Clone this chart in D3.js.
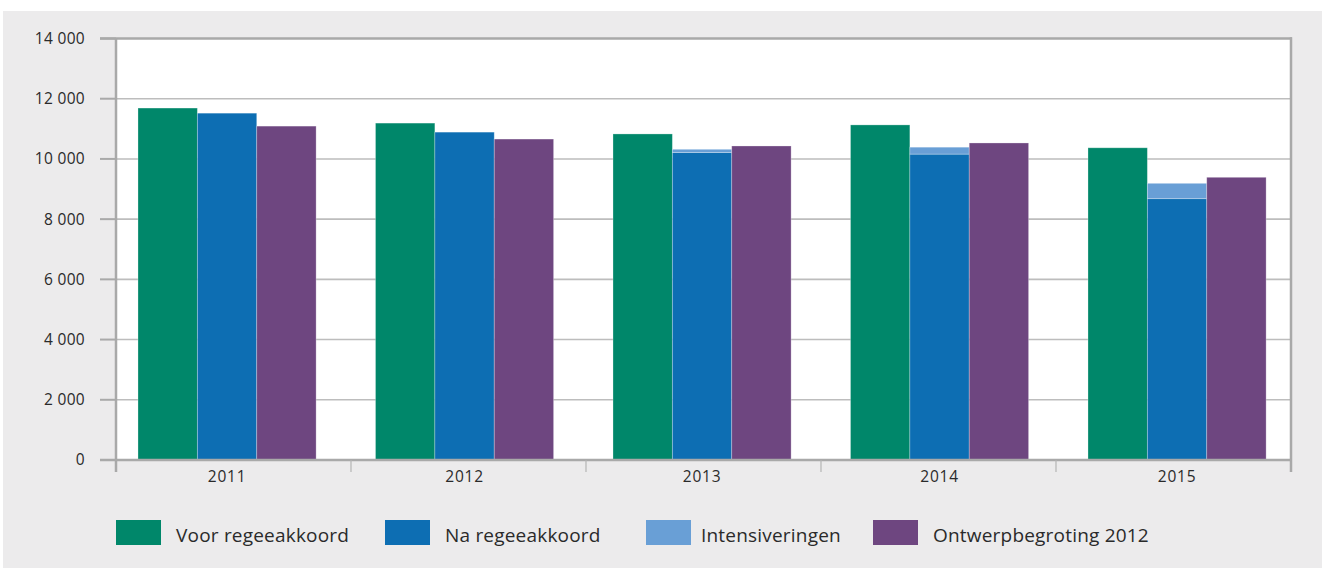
<!DOCTYPE html>
<html>
<head>
<meta charset="utf-8">
<script src="https://cdn.jsdelivr.net/npm/d3@7"></script>
<style>
  body { margin: 0; background: #fff; }
  text { font-family: "Open Sans", Lato, sans-serif; fill: #2a2a2a; }
</style>
</head>
<body>
<div id="chart"></div>
<script>
var years = ["2011", "2012", "2013", "2014", "2015"];
var voor = [11690, 11190, 10830, 11130, 10370];
var na = [11520, 10890, 10210, 10160, 8680];
var intens = [0, 0, 110, 230, 510];
var ontwerp = [11090, 10660, 10430, 10530, 9390];
var yTicks = [0, 2000, 4000, 6000, 8000, 10000, 12000, 14000];
var legendLabels = ["Voor regeeakkoord", "Na regeeakkoord", "Intensiveringen", "Ontwerpbegroting 2012"];
var colors = ["#00876a", "#0d6eb3", "#699fd6", "#6e4680"];

var w = 1322, h = 568,
    svg = d3.select("#chart")
        .append("svg")
        .attr("width", w)
        .attr("height", h);

// grey panel
svg.append("rect")
    .attr("x", 3).attr("y", 11)
    .attr("width", w - 3).attr("height", h - 11)
    .attr("fill", "#ecebec");

var pLeft = 116, pRight = 1291, pTop = 38.5, pBottom = 460;

svg.append("rect")
    .attr("x", pLeft).attr("y", pTop)
    .attr("width", pRight - pLeft).attr("height", pBottom - pTop)
    .attr("fill", "#fff");

var y = d3.scaleLinear().domain([0, 14000]).range([pBottom, pTop]);

// category boundaries for the tick marks
var xTick = d3.scaleBand().domain(years).range([pLeft, pRight]);
// bar groups are placed slightly differently
var x = d3.scaleBand().domain(years).range([108.3, 1295.8])
    .paddingInner(0.25).paddingOuter(0.125);
var xs = d3.scaleBand().domain([0, 1, 2]).range([0, x.bandwidth()]);

// grid lines
svg.append("g").selectAll("line")
    .data(yTicks.slice(1, -1))
  .enter().append("line")
    .attr("x1", pLeft).attr("x2", pRight)
    .attr("y1", function(d) { return y(d); })
    .attr("y2", function(d) { return y(d); })
    .attr("stroke", "#bdbdbd")
    .attr("stroke-width", 1.6);

// bars
var rows = years.map(function(yr, i) {
  return { year: yr, voor: voor[i], na: na[i], intens: intens[i], ontwerp: ontwerp[i] };
});

var g = svg.append("g").selectAll("g")
    .data(rows)
  .enter().append("g")
    .attr("transform", function(d) { return "translate(" + x(d.year) + ",0)"; });

function bar(sel, idx, lo, hi, col) {
  sel.append("rect")
      .attr("x", xs(idx))
      .attr("width", xs.bandwidth())
      .attr("y", function(d) { return y(hi(d)); })
      .attr("height", function(d) { return y(lo(d)) - y(hi(d)); })
      .attr("fill", col)
      .attr("stroke", "rgba(255,255,255,0.35)")
      .attr("stroke-width", 0.8);
}
bar(g, 0, function() { return 0; }, function(d) { return d.voor; }, colors[0]);
bar(g, 1, function() { return 0; }, function(d) { return d.na; }, colors[1]);
bar(g.filter(function(d) { return d.intens > 0; }), 1,
    function(d) { return d.na; }, function(d) { return d.na + d.intens; }, colors[2]);
bar(g, 2, function() { return 0; }, function(d) { return d.ontwerp; }, colors[3]);

// axes frame
var axisCol = "#a9a9a9";
svg.append("line").attr("x1", 100).attr("x2", pRight + 1)
    .attr("y1", pTop).attr("y2", pTop)
    .attr("stroke", axisCol).attr("stroke-width", 2.5);
svg.append("line").attr("x1", pLeft).attr("x2", pLeft)
    .attr("y1", pTop).attr("y2", 472)
    .attr("stroke", axisCol).attr("stroke-width", 2.5);
svg.append("line").attr("x1", pRight).attr("x2", pRight)
    .attr("y1", pTop - 1.2).attr("y2", 472)
    .attr("stroke", axisCol).attr("stroke-width", 2.5);
svg.append("line").attr("x1", 100).attr("x2", pRight)
    .attr("y1", pBottom).attr("y2", pBottom)
    .attr("stroke", axisCol).attr("stroke-width", 2.5);

// y ticks + labels
var yAxis = svg.append("g");
yAxis.selectAll("line")
    .data(yTicks)
  .enter().append("line")
    .attr("x1", 100).attr("x2", pLeft)
    .attr("y1", function(d) { return y(d); })
    .attr("y2", function(d) { return y(d); })
    .attr("stroke", axisCol).attr("stroke-width", 2);
var fmt = d3.formatLocale({ decimal: ",", thousands: " ", grouping: [3] }).format(",");
yAxis.selectAll("text")
    .data(yTicks)
  .enter().append("text")
    .attr("x", 85)
    .attr("y", function(d) { return y(d); })
    .attr("dy", "0.35em")
    .attr("text-anchor", "end")
    .style("font-size", "15.5px")
    .style("letter-spacing", "0.3px")
    .text(function(d) { return fmt(d); });

// category ticks
svg.append("g").selectAll("line")
    .data(years.slice(1))
  .enter().append("line")
    .attr("x1", function(d) { return xTick(d); })
    .attr("x2", function(d) { return xTick(d); })
    .attr("y1", pBottom).attr("y2", 472)
    .attr("stroke", "#b5b5b5").attr("stroke-width", 1.2);

svg.append("g").selectAll("text")
    .data(years)
  .enter().append("text")
    .attr("x", function(d) { return x(d) + x.bandwidth() / 2; })
    .attr("y", 482)
    .attr("text-anchor", "middle")
    .style("font-size", "15.5px")
    .style("letter-spacing", "0.8px")
    .text(function(d) { return d; });

// legend
var legX = [116, 385, 646, 873];
var leg = svg.append("g").selectAll("g")
    .data(legendLabels)
  .enter().append("g")
    .attr("transform", function(d, i) { return "translate(" + legX[i] + ",520)"; });
leg.append("rect")
    .attr("width", 45).attr("height", 25)
    .attr("fill", function(d, i) { return colors[i]; });
leg.append("text")
    .attr("x", function(d, i) { return i == 2 ? 55 : 60; })
    .attr("y", 22)
    .style("font-size", "19px")
    .style("letter-spacing", "0.2px")
    .text(function(d) { return d; });
</script>
</body>
</html>
